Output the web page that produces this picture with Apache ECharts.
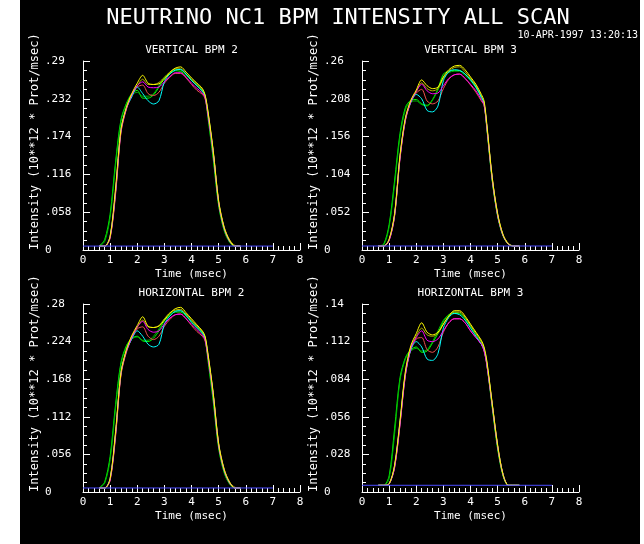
<!DOCTYPE html>
<html><head><meta charset="utf-8">
<script src="https://cdn.jsdelivr.net/npm/echarts@6/dist/echarts.min.js"></script>
<style>
html,body{margin:0;padding:0;background:#fff;}
#c{position:absolute;left:0;top:0;width:644px;height:544px;}
.w{position:absolute;top:0;height:544px;background:#fff;}
</style></head>
<body>
<div id="c"></div>
<div class="w" style="left:0;width:20px"></div>
<div class="w" style="left:640px;width:4px"></div>
<script>
// ---- data ----
const mainTitle = 'NEUTRINO NC1 BPM INTENSITY ALL SCAN';
const timeStamp = '10-APR-1997 13:20:13';
const panelTitles = ['VERTICAL BPM 2', 'VERTICAL BPM 3', 'HORIZONTAL BPM 2', 'HORIZONTAL BPM 3'];
const xName = 'Time (msec)';
const yName = 'Intensity (10**12 * Prot/msec)';
const xTicks = [0, 1, 2, 3, 4, 5, 6, 7, 8];
const yMax = [0.29, 0.26, 0.28, 0.14];
const yStep = [0.058, 0.052, 0.056, 0.028];
const seriesNames = ['green', 'dkgreen', 'red', 'olive', 'cyan', 'magenta', 'yellow'];
const seriesColors = ['#00ff00', '#00b400', '#f05050', '#b8b800', '#00ffff', '#ff00ff', '#ffff00'];
const baseColor = '#4a4aff';

const T = [0.6,0.8,1.0,1.2,1.4,1.6,1.8,2.0,2.2,2.4,2.6,2.8,3.0,3.2,3.4,3.6,3.8,4.0,4.2,4.4,4.5,4.6,4.8,5.0,5.2,5.4,5.6,5.8];
const baseT = [0, 7];

// Panel 1: VERTICAL BPM 2
const p1Base = 0.006;
const p1Green   = [.006,.016,.055,.135,.2,.225,.24,.245,.233,.233,.238,.25,.263,.27,.275,.274,.268,.26,.252,.243,.235,.205,.14,.068,.03,.012,.006,.006];
const p1DkGreen = [.006,.013,.05,.13,.197,.224,.238,.242,.236,.236,.24,.252,.265,.272,.277,.276,.27,.262,.254,.245,.237,.21,.145,.07,.032,.013,.006,.006];
const p1Red     = [.006,.006,.018,.085,.18,.216,.237,.25,.253,.24,.237,.242,.256,.265,.271,.271,.264,.254,.245,.239,.232,.21,.15,.073,.034,.014,.006,.006];
const p1Olive   = [.006,.006,.02,.09,.183,.218,.24,.252,.262,.254,.254,.257,.265,.273,.278,.278,.27,.262,.254,.246,.237,.214,.152,.076,.036,.016,.007,.006];
const p1Cyan    = [.006,.006,.021,.09,.185,.218,.235,.25,.24,.229,.224,.229,.258,.27,.276,.277,.27,.26,.252,.244,.236,.212,.15,.073,.034,.014,.006,.006];
const p1Magenta = [.006,.006,.019,.088,.182,.217,.238,.252,.258,.25,.249,.25,.258,.266,.272,.272,.265,.256,.248,.241,.234,.21,.15,.073,.034,.014,.006,.006];
const p1Yellow  = [.006,.006,.021,.095,.185,.219,.24,.256,.268,.256,.254,.255,.262,.272,.279,.281,.273,.264,.256,.248,.238,.215,.153,.075,.035,.015,.006,.006];

// Panel 2: VERTICAL BPM 3
const p2Base = 0.0055;
const p2Green   = [.0055,.008,.035,.095,.16,.196,.206,.207,.201,.199,.207,.222,.242,.246,.247,.247,.242,.235,.225,.21,.201,.168,.095,.046,.019,.008,.0055,.0055];
const p2DkGreen = [.0055,.007,.032,.09,.156,.193,.204,.205,.2,.198,.206,.22,.238,.244,.246,.246,.24,.233,.223,.209,.2,.168,.096,.047,.02,.008,.0055,.0055];
const p2Red     = [.0055,.0055,.013,.046,.125,.178,.203,.216,.221,.205,.201,.205,.222,.235,.241,.242,.236,.227,.217,.205,.199,.17,.098,.048,.02,.008,.0055,.0055];
const p2Olive   = [.0055,.0055,.014,.048,.128,.18,.205,.218,.23,.222,.219,.222,.236,.246,.251,.252,.245,.236,.226,.212,.203,.172,.1,.05,.021,.009,.0055,.0055];
const p2Cyan    = [.0055,.0055,.014,.048,.128,.18,.203,.214,.208,.192,.19,.198,.233,.245,.248,.247,.242,.234,.224,.21,.202,.171,.098,.048,.02,.008,.0055,.0055];
const p2Magenta = [.0055,.0055,.013,.047,.126,.179,.204,.218,.228,.219,.215,.216,.226,.236,.241,.242,.236,.228,.219,.207,.2,.17,.098,.048,.02,.008,.0055,.0055];
const p2Yellow  = [.0055,.0055,.015,.05,.13,.182,.206,.22,.234,.226,.222,.224,.238,.248,.253,.254,.248,.238,.228,.214,.205,.174,.1,.05,.021,.008,.0055,.0055];

// Panel 3: HORIZONTAL BPM 2
const p3Base = 0.006;
const p3Green   = [.006,.015,.053,.13,.193,.218,.229,.232,.225,.224,.229,.24,.255,.263,.268,.268,.262,.253,.245,.236,.228,.198,.135,.065,.029,.012,.006,.006];
const p3DkGreen = [.006,.013,.048,.125,.19,.216,.228,.231,.226,.226,.232,.243,.257,.265,.27,.27,.263,.255,.247,.238,.23,.203,.14,.068,.031,.013,.006,.006];
const p3Red     = [.006,.006,.017,.082,.174,.208,.229,.243,.246,.232,.227,.232,.247,.257,.264,.265,.258,.248,.239,.232,.225,.203,.145,.07,.033,.014,.006,.006];
const p3Olive   = [.006,.006,.019,.087,.176,.211,.232,.245,.256,.246,.245,.248,.258,.267,.271,.272,.265,.256,.247,.239,.231,.207,.147,.073,.035,.015,.007,.006];
const p3Cyan    = [.006,.006,.02,.087,.178,.21,.228,.24,.232,.22,.216,.22,.25,.262,.269,.27,.263,.253,.245,.237,.229,.205,.145,.07,.033,.014,.006,.006];
const p3Magenta = [.006,.006,.018,.085,.176,.21,.23,.246,.254,.242,.238,.24,.25,.259,.264,.265,.258,.25,.242,.234,.227,.203,.145,.07,.033,.014,.006,.006];
const p3Yellow  = [.006,.006,.02,.09,.178,.212,.233,.248,.261,.247,.245,.247,.256,.266,.273,.275,.267,.258,.249,.24,.232,.208,.148,.072,.034,.015,.006,.006];

// Panel 4: HORIZONTAL BPM 3
const p4Base = 0.005;
const p4Green   = [.005,.005,.012,.047,.085,.1,.106,.108,.104,.105,.111,.118,.127,.132,.133,.133,.129,.123,.117,.111,.106,.095,.063,.032,.012,.005,.005,.005];
const p4DkGreen = [.005,.005,.01,.043,.083,.099,.105,.107,.105,.106,.112,.12,.128,.132,.134,.133,.129,.123,.117,.111,.106,.096,.064,.033,.012,.005,.005,.005];
const p4Red     = [.005,.005,.006,.018,.05,.087,.106,.114,.115,.106,.104,.108,.119,.126,.129,.129,.126,.12,.115,.11,.105,.095,.065,.034,.013,.005,.005,.005];
const p4Olive   = [.005,.005,.006,.019,.051,.089,.108,.116,.122,.117,.116,.118,.125,.131,.134,.134,.13,.124,.118,.112,.107,.097,.066,.035,.013,.005,.005,.005];
const p4Cyan    = [.005,.005,.006,.019,.052,.088,.106,.112,.108,.099,.098,.103,.122,.13,.133,.132,.128,.122,.116,.11,.106,.096,.065,.034,.013,.005,.005,.005];
const p4Magenta = [.005,.005,.006,.018,.05,.087,.107,.115,.12,.113,.112,.114,.12,.126,.129,.129,.126,.12,.115,.11,.105,.095,.065,.034,.013,.005,.005,.005];
const p4Yellow  = [.005,.005,.006,.02,.053,.09,.109,.118,.126,.119,.117,.119,.125,.131,.135,.135,.131,.125,.119,.113,.108,.098,.066,.035,.013,.005,.005,.005];

// ---- chart ----
const panelData = [
  [p1Green, p1DkGreen, p1Red, p1Olive, p1Cyan, p1Magenta, p1Yellow],
  [p2Green, p2DkGreen, p2Red, p2Olive, p2Cyan, p2Magenta, p2Yellow],
  [p3Green, p3DkGreen, p3Red, p3Olive, p3Cyan, p3Magenta, p3Yellow],
  [p4Green, p4DkGreen, p4Red, p4Olive, p4Cyan, p4Magenta, p4Yellow]
];
const panelBase = [p1Base, p2Base, p3Base, p4Base];

const FONT = '"DejaVu Sans Mono", "Liberation Mono", monospace';
const grids = [
  {left: 83, top: 61, width: 217, height: 189},
  {left: 362, top: 61, width: 217, height: 189},
  {left: 83, top: 304, width: 217, height: 188},
  {left: 362, top: 304, width: 217, height: 188}
];

const xAxes = [], yAxes = [], series = [], graphics = [];
grids.forEach((g, i) => {
  xAxes.push({
    gridIndex: i, type: 'value', min: xTicks[0], max: xTicks[xTicks.length - 1], interval: 1,
    name: xName, nameLocation: 'middle', nameGap: 19,
    nameTextStyle: {color: '#fff', fontFamily: FONT, fontSize: 11},
    axisLine: {show: true, onZero: false, lineStyle: {color: '#fff', width: 1}},
    axisTick: {show: true, inside: true, length: 7, lineStyle: {color: '#fff'}},
    minorTick: {show: true, splitNumber: 5, length: 4, lineStyle: {color: '#fff'}},
    axisLabel: {color: '#fff', fontFamily: FONT, fontSize: 11, margin: 5},
    splitLine: {show: false}
  });
  yAxes.push({
    gridIndex: i, type: 'value', min: 0, max: yMax[i], interval: yStep[i],
    axisLine: {show: true, onZero: false, lineStyle: {color: '#fff', width: 1}},
    axisTick: {show: true, inside: true, length: 7, lineStyle: {color: '#fff'}},
    minorTick: {show: true, splitNumber: 4, length: 4, lineStyle: {color: '#fff'}},
    axisLabel: {
      color: '#fff', fontFamily: FONT, fontSize: 11, margin: 38, align: 'left',
      formatter: v => v === 0 ? '0' : String(+v.toFixed(3)).replace(/^0/, '')
    },
    splitLine: {show: false}
  });
  panelData[i].forEach((vals, k) => {
    series.push({
      type: 'line', xAxisIndex: i, yAxisIndex: i, name: seriesNames[k],
      data: T.map((t, j) => [t, vals[j]]),
      showSymbol: false, smooth: 0.3,
      lineStyle: {color: seriesColors[k], width: 1},
      itemStyle: {color: seriesColors[k]}, animation: false
    });
  });
  series.push({
    type: 'line', xAxisIndex: i, yAxisIndex: i, name: 'base',
    data: baseT.map(t => [t, panelBase[i]]),
    showSymbol: false, lineStyle: {color: baseColor, width: 1}, animation: false, z: 5
  });
  graphics.push({
    type: 'text', x: g.left + g.width / 2, y: g.top - 11,
    style: {text: panelTitles[i], fill: '#fff', font: '11px ' + FONT,
      align: 'center', verticalAlign: 'middle', textAlign: 'center', textVerticalAlign: 'middle'}
  });
  graphics.push({
    type: 'text', x: g.left - 48, y: g.top + g.height, rotation: Math.PI / 2,
    style: {text: yName, fill: '#fff', font: '12px ' + FONT,
      align: 'left', verticalAlign: 'middle', textAlign: 'left', textVerticalAlign: 'middle'}
  });
});
graphics.push({
  type: 'text', x: 338, y: 18,
  style: {text: mainTitle, fill: '#fff', font: '22px ' + FONT,
    align: 'center', verticalAlign: 'middle', textAlign: 'center', textVerticalAlign: 'middle'}
});
graphics.push({
  type: 'text', x: 638, y: 35,
  style: {text: timeStamp, fill: '#fff', font: '10px ' + FONT,
    align: 'right', verticalAlign: 'middle', textAlign: 'right', textVerticalAlign: 'middle'}
});

const chart = echarts.init(document.getElementById('c'), null, {renderer: 'canvas'});
chart.setOption({
  backgroundColor: '#000',
  animation: false,
  grid: grids,
  xAxis: xAxes,
  yAxis: yAxes,
  series: series,
  graphic: graphics
});
</script>
</body></html>
